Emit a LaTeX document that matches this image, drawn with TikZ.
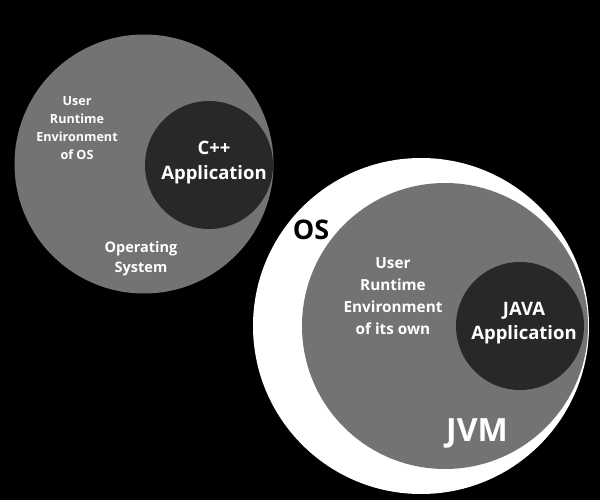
\documentclass[tikz,border=0pt]{standalone}
\usepackage{fontspec}
\setmainfont{Open Sans}
\definecolor{discgray}{RGB}{115,115,115}
\definecolor{appdark}{RGB}{40,40,40}
\begin{document}
\begin{tikzpicture}[x=1pt, y=-1pt,
  txt/.style={text=white, font=\bfseries, align=center, inner sep=0pt}]

  % Background
  \fill[black] (0,0) rectangle (600,500);
  \useasboundingbox (0,0) rectangle (600,500);

  % Native: OS disc with C++ app
  \fill[discgray] (144,164) circle (129.5);
  \fill[appdark]  (209,165) circle (64);

  % Java: OS ring, JVM disc, JAVA app
  \fill[white]    (421,326) circle (168);
  \fill[discgray] (445,326) circle (143);
  \fill[appdark]  (520,326) circle (64);

  % Labels, left
  \node[txt, font=\bfseries\fontsize{12.6}{18}\selectfont] (osenv) at (77,128)
    {User\\Runtime\\Environment\\of OS};
  \node[txt, font=\bfseries\fontsize{18.5}{25}\selectfont] (cppapp) at (214,163)
    {C++\\Application};
  \node[txt, font=\bfseries\fontsize{14.5}{20}\selectfont] (os) at (141,259)
    {Operating\\System};

  % Labels, right
  \node[txt, text=black, font=\bfseries\fontsize{27}{30}\selectfont] (oslabel) at (311,230) {OS};
  \node[txt, font=\bfseries\fontsize{15.3}{22}\selectfont] (jvmenv) at (393,296)
    {User\\Runtime\\Environment\\of its own};
  \node[txt, font=\bfseries\fontsize{18.5}{24}\selectfont] (javaapp) at (524,323)
    {JAVA\\Application};
  \node[txt, font=\bfseries\fontsize{32}{34}\selectfont] (jvm) at (477,433) {JVM};

\end{tikzpicture}
\end{document}
